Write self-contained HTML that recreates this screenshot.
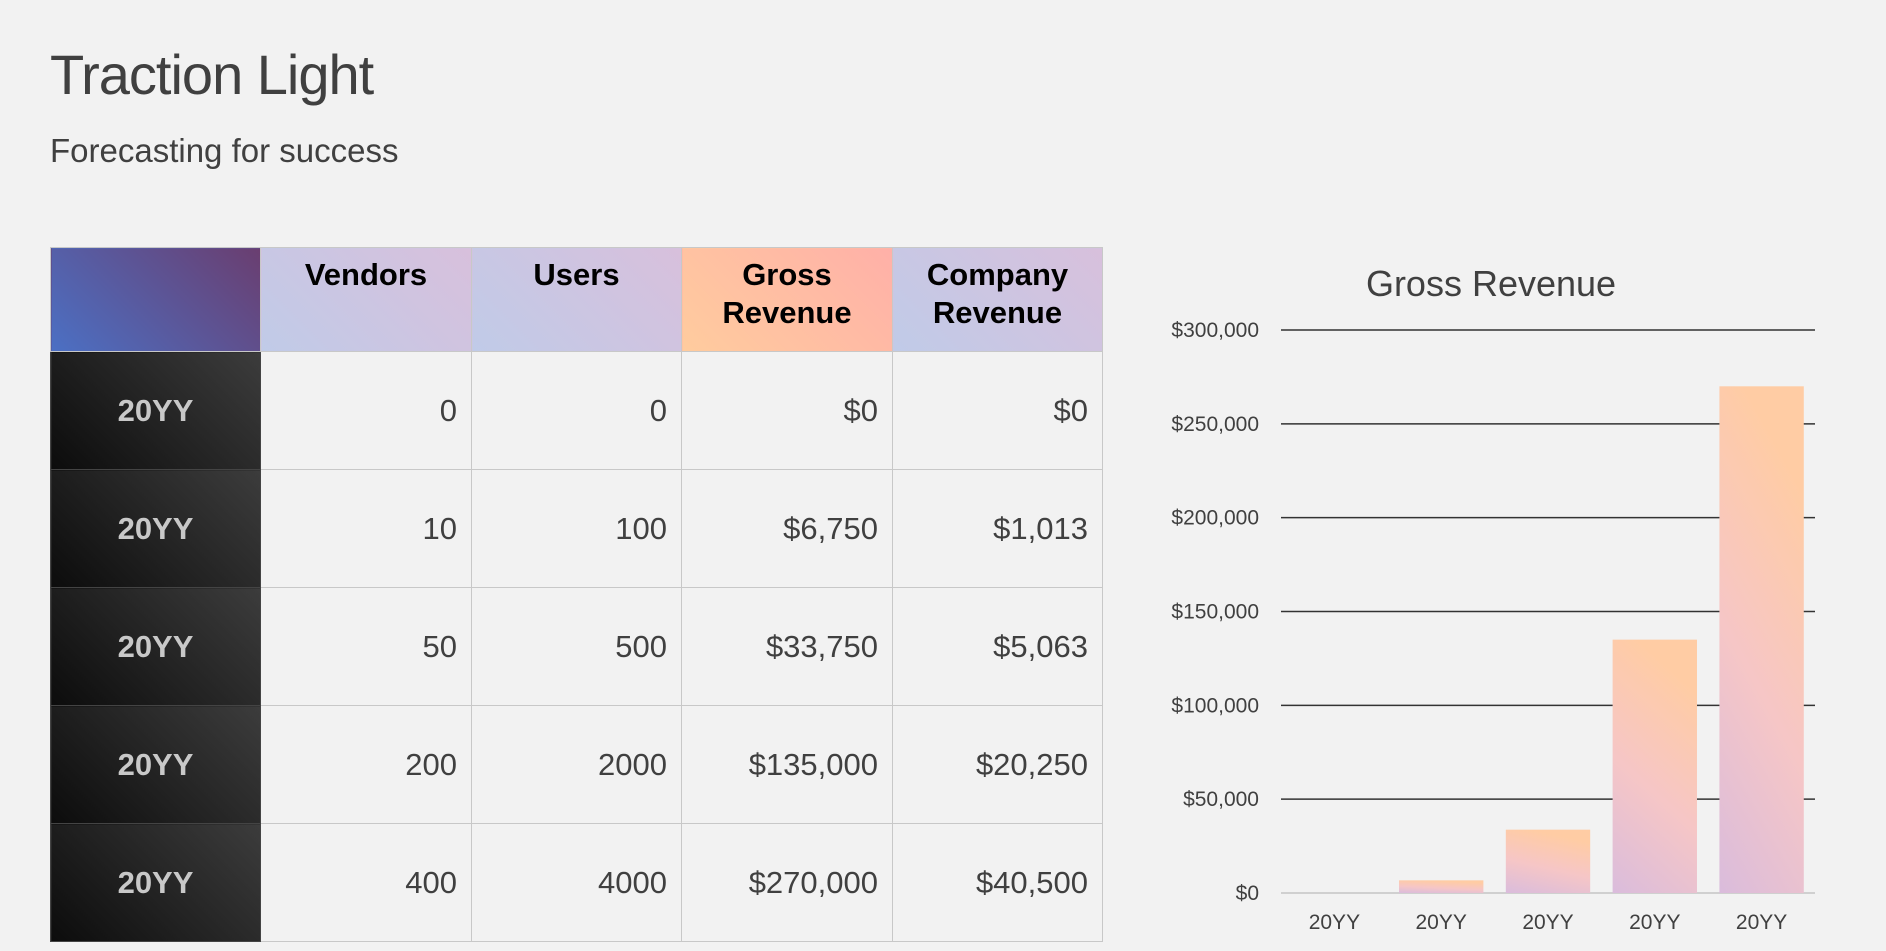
<!DOCTYPE html>
<html><head><meta charset="utf-8"><style>
body{margin:0;width:1886px;height:951px;background:#f2f2f2;font-family:"Liberation Sans",sans-serif;overflow:hidden;position:relative}
.t{position:absolute;left:50px;top:42px;font-size:56px;color:#404040;letter-spacing:-1px}
.s{position:absolute;left:50px;top:132px;font-size:33px;color:#404040}
table{position:absolute;left:50px;top:247px;border-collapse:collapse;table-layout:fixed}
td,th{border:1px solid #c8c8c8;padding:0 14px;font-size:31px}
th{height:95px;vertical-align:top;padding-top:8px;font-weight:bold;color:#000;line-height:38px;background:linear-gradient(45deg,#c0cbe8,#d8c0dc)}
th.g{background:linear-gradient(45deg,#ffcc9e,#ffb0a8)}
th.c0{background:linear-gradient(45deg,#4b70c4,#6a3e70)}
td{height:117px;text-align:right;color:#404040}
td.y{background:linear-gradient(45deg,#0c0c0c,#3c3c3c);color:#c8c8c8;font-weight:bold;text-align:center;border-color:#444}
</style></head><body>
<div class="t">Traction Light</div>
<div class="s">Forecasting for success</div>
<table>
<colgroup><col style="width:210px"><col style="width:211px"><col style="width:210px"><col style="width:211px"><col style="width:210px"></colgroup>
<tr><th class="c0"></th><th>Vendors</th><th>Users</th><th class="g">Gross<br>Revenue</th><th>Company<br>Revenue</th></tr>
<tr><td class="y">20YY</td><td>0</td><td>0</td><td>$0</td><td>$0</td></tr>
<tr><td class="y">20YY</td><td>10</td><td>100</td><td>$6,750</td><td>$1,013</td></tr>
<tr><td class="y">20YY</td><td>50</td><td>500</td><td>$33,750</td><td>$5,063</td></tr>
<tr><td class="y">20YY</td><td>200</td><td>2000</td><td>$135,000</td><td>$20,250</td></tr>
<tr><td class="y">20YY</td><td>400</td><td>4000</td><td>$270,000</td><td>$40,500</td></tr>
</table>
<svg id="chart" width="1886" height="951" style="position:absolute;left:0;top:0">
<defs><linearGradient id="bg" x1="0.3" y1="0" x2="0" y2="1"><stop offset="0" stop-color="#ffcca4"/><stop offset="0.5" stop-color="#f6c6c6"/><stop offset="1" stop-color="#dabcdc"/></linearGradient></defs>
<text x="1491" y="296" text-anchor="middle" font-size="36" fill="#404040" font-family="Liberation Sans">Gross Revenue</text>
</svg>
<script>
const categories=["20YY","20YY","20YY","20YY","20YY"];
const grossRevenue=[0,6750,33750,135000,270000];
const tickValues=[0,50000,100000,150000,200000,250000,300000];
const tickLabels=["$0","$50,000","$100,000","$150,000","$200,000","$250,000","$300,000"];
const svg=document.getElementById('chart');const NS='http://www.w3.org/2000/svg';
const x0=1281,x1=1815,y0=893,y1=330,max=300000;
const y=v=>y0-(v/max)*(y0-y1);
const band=(x1-x0)/categories.length;
function mk(t,a){const e=document.createElementNS(NS,t);for(const k in a)e.setAttribute(k,a[k]);svg.appendChild(e);return e;}
tickValues.forEach((v,i)=>{
 const l=mk('line',{x1:x0,x2:x1,y1:y(v),y2:y(v),stroke:i==0?'#d0d0d0':'#333','stroke-width':i==0?2:1.5});
 
 
 const t=mk('text',{x:1259,y:y(v)+7,'text-anchor':'end','font-size':21,fill:'#404040','font-family':'Liberation Sans'});
 t.textContent=tickLabels[i];
 
 
});
grossRevenue.forEach((v,i)=>{
 const cx=x0+band*(i+0.5),w=band*0.79;
 const r=mk('rect',{x:cx-w/2,y:y(v),width:w,height:y0-y(v),fill:'url(#bg)'});
 
 
 const t=mk('text',{x:cx,y:929,'text-anchor':'middle','font-size':21,fill:'#404040','font-family':'Liberation Sans'});
 t.textContent=categories[i];
 
 
});
</script>
</body></html>
